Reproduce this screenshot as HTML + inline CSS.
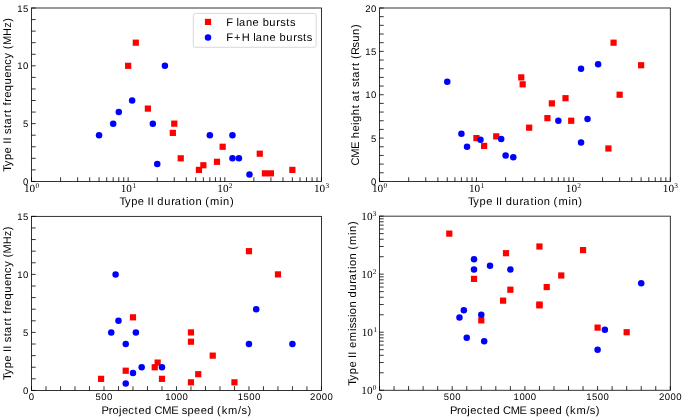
<!DOCTYPE html>
<html><head><meta charset="utf-8"><style>
html,body{margin:0;padding:0;background:#fff;width:685px;height:417px;overflow:hidden}
svg{display:block;will-change:transform} text{text-rendering:geometricPrecision}
</style></head><body>
<svg width="685" height="417" viewBox="0 0 685 417">
<rect width="685" height="417" fill="#fff"/>
<rect x="125.05" y="62.72" width="6.2" height="6.2" fill="#ff0000"/>
<rect x="132.7" y="39.59" width="6.2" height="6.2" fill="#ff0000"/>
<rect x="144.78" y="105.5" width="6.2" height="6.2" fill="#ff0000"/>
<rect x="169.74" y="129.78" width="6.2" height="6.2" fill="#ff0000"/>
<rect x="171.16" y="120.53" width="6.2" height="6.2" fill="#ff0000"/>
<rect x="177.63" y="155.22" width="6.2" height="6.2" fill="#ff0000"/>
<rect x="195.84" y="166.79" width="6.2" height="6.2" fill="#ff0000"/>
<rect x="200.26" y="162.16" width="6.2" height="6.2" fill="#ff0000"/>
<rect x="213.88" y="158.69" width="6.2" height="6.2" fill="#ff0000"/>
<rect x="219.55" y="143.66" width="6.2" height="6.2" fill="#ff0000"/>
<rect x="256.66" y="150.6" width="6.2" height="6.2" fill="#ff0000"/>
<rect x="261.81" y="170.26" width="6.2" height="6.2" fill="#ff0000"/>
<rect x="267.81" y="170.26" width="6.2" height="6.2" fill="#ff0000"/>
<rect x="289.26" y="166.79" width="6.2" height="6.2" fill="#ff0000"/>
<circle cx="99.06" cy="135.2" r="3.25" fill="#0000ff"/>
<circle cx="113.18" cy="123.63" r="3.25" fill="#0000ff"/>
<circle cx="118.78" cy="112.07" r="3.25" fill="#0000ff"/>
<circle cx="132.15" cy="100.51" r="3.25" fill="#0000ff"/>
<circle cx="152.82" cy="123.63" r="3.25" fill="#0000ff"/>
<circle cx="157.24" cy="164.1" r="3.25" fill="#0000ff"/>
<circle cx="164.9" cy="65.82" r="3.25" fill="#0000ff"/>
<circle cx="209.83" cy="135.2" r="3.25" fill="#0000ff"/>
<circle cx="232.45" cy="135.2" r="3.25" fill="#0000ff"/>
<circle cx="232.45" cy="158.32" r="3.25" fill="#0000ff"/>
<circle cx="238.92" cy="158.32" r="3.25" fill="#0000ff"/>
<circle cx="249.47" cy="174.51" r="3.25" fill="#0000ff"/>
<path d="M31.5 181.45V177.25M60.59 181.45V177.25M77.61 181.45V177.25M89.69 181.45V177.25M99.06 181.45V177.25M106.71 181.45V177.25M113.18 181.45V177.25M118.78 181.45V177.25M123.73 181.45V177.25M128.15 181.45V177.25M157.24 181.45V177.25M174.26 181.45V177.25M186.34 181.45V177.25M195.71 181.45V177.25M203.36 181.45V177.25M209.83 181.45V177.25M215.43 181.45V177.25M220.38 181.45V177.25M224.8 181.45V177.25M253.89 181.45V177.25M270.91 181.45V177.25M282.99 181.45V177.25M292.36 181.45V177.25M300.01 181.45V177.25M306.48 181.45V177.25M312.08 181.45V177.25M317.03 181.45V177.25M321.45 181.45V177.25M31.5 181.45H35.7M31.5 169.89H35.7M31.5 158.32H35.7M31.5 146.76H35.7M31.5 135.2H35.7M31.5 123.63H35.7M31.5 112.07H35.7M31.5 100.51H35.7M31.5 88.94H35.7M31.5 77.38H35.7M31.5 65.82H35.7M31.5 54.25H35.7M31.5 42.69H35.7M31.5 31.13H35.7M31.5 19.56H35.7M31.5 8H35.7" stroke="#000" stroke-width="0.8" fill="none"/>
<rect x="31.5" y="8" width="289.95" height="173.45" fill="none" stroke="#000" stroke-width="0.8"/>
<rect x="473.33" y="134.99" width="6.2" height="6.2" fill="#ff0000"/>
<rect x="481.01" y="142.79" width="6.2" height="6.2" fill="#ff0000"/>
<rect x="493.12" y="133.25" width="6.2" height="6.2" fill="#ff0000"/>
<rect x="518.16" y="74.28" width="6.2" height="6.2" fill="#ff0000"/>
<rect x="519.58" y="81.22" width="6.2" height="6.2" fill="#ff0000"/>
<rect x="526.07" y="124.58" width="6.2" height="6.2" fill="#ff0000"/>
<rect x="544.33" y="115.04" width="6.2" height="6.2" fill="#ff0000"/>
<rect x="548.76" y="100.3" width="6.2" height="6.2" fill="#ff0000"/>
<rect x="562.42" y="95.09" width="6.2" height="6.2" fill="#ff0000"/>
<rect x="568.11" y="117.64" width="6.2" height="6.2" fill="#ff0000"/>
<rect x="605.33" y="145.39" width="6.2" height="6.2" fill="#ff0000"/>
<rect x="610.49" y="39.59" width="6.2" height="6.2" fill="#ff0000"/>
<rect x="616.52" y="91.62" width="6.2" height="6.2" fill="#ff0000"/>
<rect x="638.02" y="62.14" width="6.2" height="6.2" fill="#ff0000"/>
<circle cx="447.25" cy="81.72" r="3.25" fill="#0000ff"/>
<circle cx="461.42" cy="133.75" r="3.25" fill="#0000ff"/>
<circle cx="467.04" cy="146.76" r="3.25" fill="#0000ff"/>
<circle cx="480.45" cy="139.82" r="3.25" fill="#0000ff"/>
<circle cx="501.18" cy="138.95" r="3.25" fill="#0000ff"/>
<circle cx="505.61" cy="155.43" r="3.25" fill="#0000ff"/>
<circle cx="513.29" cy="157.17" r="3.25" fill="#0000ff"/>
<circle cx="558.35" cy="120.74" r="3.25" fill="#0000ff"/>
<circle cx="581.04" cy="68.71" r="3.25" fill="#0000ff"/>
<circle cx="581.04" cy="142.42" r="3.25" fill="#0000ff"/>
<circle cx="587.53" cy="119.01" r="3.25" fill="#0000ff"/>
<circle cx="598.11" cy="64.37" r="3.25" fill="#0000ff"/>
<path d="M379.5 181.45V177.25M408.68 181.45V177.25M425.75 181.45V177.25M437.86 181.45V177.25M447.25 181.45V177.25M454.93 181.45V177.25M461.42 181.45V177.25M467.04 181.45V177.25M472 181.45V177.25M476.43 181.45V177.25M505.61 181.45V177.25M522.68 181.45V177.25M534.79 181.45V177.25M544.19 181.45V177.25M551.86 181.45V177.25M558.35 181.45V177.25M563.97 181.45V177.25M568.93 181.45V177.25M573.37 181.45V177.25M602.55 181.45V177.25M619.62 181.45V177.25M631.73 181.45V177.25M641.12 181.45V177.25M648.8 181.45V177.25M655.28 181.45V177.25M660.91 181.45V177.25M665.86 181.45V177.25M670.3 181.45V177.25M379.5 181.45H383.7M379.5 172.78H383.7M379.5 164.1H383.7M379.5 155.43H383.7M379.5 146.76H383.7M379.5 138.09H383.7M379.5 129.41H383.7M379.5 120.74H383.7M379.5 112.07H383.7M379.5 103.4H383.7M379.5 94.72H383.7M379.5 86.05H383.7M379.5 77.38H383.7M379.5 68.71H383.7M379.5 60.04H383.7M379.5 51.36H383.7M379.5 42.69H383.7M379.5 34.02H383.7M379.5 25.34H383.7M379.5 16.67H383.7M379.5 8H383.7" stroke="#000" stroke-width="0.8" fill="none"/>
<rect x="379.5" y="8" width="290.8" height="173.45" fill="none" stroke="#000" stroke-width="0.8"/>
<rect x="97.99" y="375.74" width="6.2" height="6.2" fill="#ff0000"/>
<rect x="122.63" y="367.62" width="6.2" height="6.2" fill="#ff0000"/>
<rect x="129.88" y="314.23" width="6.2" height="6.2" fill="#ff0000"/>
<rect x="151.63" y="364.14" width="6.2" height="6.2" fill="#ff0000"/>
<rect x="154.53" y="359.49" width="6.2" height="6.2" fill="#ff0000"/>
<rect x="158.88" y="375.74" width="6.2" height="6.2" fill="#ff0000"/>
<rect x="187.87" y="329.32" width="6.2" height="6.2" fill="#ff0000"/>
<rect x="187.87" y="338.6" width="6.2" height="6.2" fill="#ff0000"/>
<rect x="187.87" y="379.23" width="6.2" height="6.2" fill="#ff0000"/>
<rect x="195.12" y="371.1" width="6.2" height="6.2" fill="#ff0000"/>
<rect x="209.62" y="352.53" width="6.2" height="6.2" fill="#ff0000"/>
<rect x="231.36" y="379.23" width="6.2" height="6.2" fill="#ff0000"/>
<rect x="245.86" y="248.07" width="6.2" height="6.2" fill="#ff0000"/>
<rect x="274.86" y="271.28" width="6.2" height="6.2" fill="#ff0000"/>
<circle cx="111.24" cy="332.42" r="3.25" fill="#0000ff"/>
<circle cx="115.59" cy="274.38" r="3.25" fill="#0000ff"/>
<circle cx="118.48" cy="320.81" r="3.25" fill="#0000ff"/>
<circle cx="125.73" cy="344.02" r="3.25" fill="#0000ff"/>
<circle cx="125.73" cy="383.49" r="3.25" fill="#0000ff"/>
<circle cx="132.98" cy="373.04" r="3.25" fill="#0000ff"/>
<circle cx="135.88" cy="332.42" r="3.25" fill="#0000ff"/>
<circle cx="141.68" cy="367.24" r="3.25" fill="#0000ff"/>
<circle cx="161.98" cy="367.24" r="3.25" fill="#0000ff"/>
<circle cx="248.96" cy="344.02" r="3.25" fill="#0000ff"/>
<circle cx="256.21" cy="309.2" r="3.25" fill="#0000ff"/>
<circle cx="292.45" cy="344.02" r="3.25" fill="#0000ff"/>
<path d="M31.5 390.45V386.25M46 390.45V386.25M60.5 390.45V386.25M74.99 390.45V386.25M89.49 390.45V386.25M103.99 390.45V386.25M118.48 390.45V386.25M132.98 390.45V386.25M147.48 390.45V386.25M161.98 390.45V386.25M176.47 390.45V386.25M190.97 390.45V386.25M205.47 390.45V386.25M219.97 390.45V386.25M234.46 390.45V386.25M248.96 390.45V386.25M263.46 390.45V386.25M277.96 390.45V386.25M292.45 390.45V386.25M306.95 390.45V386.25M321.45 390.45V386.25M31.5 390.45H35.7M31.5 378.84H35.7M31.5 367.24H35.7M31.5 355.63H35.7M31.5 344.02H35.7M31.5 332.42H35.7M31.5 320.81H35.7M31.5 309.2H35.7M31.5 297.6H35.7M31.5 285.99H35.7M31.5 274.38H35.7M31.5 262.78H35.7M31.5 251.17H35.7M31.5 239.56H35.7M31.5 227.96H35.7M31.5 216.35H35.7" stroke="#000" stroke-width="0.8" fill="none"/>
<rect x="31.5" y="216.35" width="289.95" height="174.1" fill="none" stroke="#000" stroke-width="0.8"/>
<rect x="446.19" y="230.52" width="6.2" height="6.2" fill="#ff0000"/>
<rect x="470.91" y="275.78" width="6.2" height="6.2" fill="#ff0000"/>
<rect x="478.18" y="317.27" width="6.2" height="6.2" fill="#ff0000"/>
<rect x="499.99" y="297.54" width="6.2" height="6.2" fill="#ff0000"/>
<rect x="502.9" y="250.09" width="6.2" height="6.2" fill="#ff0000"/>
<rect x="507.26" y="286.61" width="6.2" height="6.2" fill="#ff0000"/>
<rect x="536.34" y="301.43" width="6.2" height="6.2" fill="#ff0000"/>
<rect x="536.34" y="302.28" width="6.2" height="6.2" fill="#ff0000"/>
<rect x="536.34" y="243.39" width="6.2" height="6.2" fill="#ff0000"/>
<rect x="543.61" y="283.96" width="6.2" height="6.2" fill="#ff0000"/>
<rect x="558.15" y="272.38" width="6.2" height="6.2" fill="#ff0000"/>
<rect x="579.96" y="247" width="6.2" height="6.2" fill="#ff0000"/>
<rect x="594.5" y="324.52" width="6.2" height="6.2" fill="#ff0000"/>
<rect x="623.58" y="329.12" width="6.2" height="6.2" fill="#ff0000"/>
<circle cx="459.47" cy="317.4" r="3.25" fill="#0000ff"/>
<circle cx="463.83" cy="310.15" r="3.25" fill="#0000ff"/>
<circle cx="466.74" cy="337.84" r="3.25" fill="#0000ff"/>
<circle cx="474.01" cy="259.37" r="3.25" fill="#0000ff"/>
<circle cx="474.01" cy="269.59" r="3.25" fill="#0000ff"/>
<circle cx="481.28" cy="314.75" r="3.25" fill="#0000ff"/>
<circle cx="484.19" cy="341.21" r="3.25" fill="#0000ff"/>
<circle cx="490" cy="265.7" r="3.25" fill="#0000ff"/>
<circle cx="510.36" cy="269.59" r="3.25" fill="#0000ff"/>
<circle cx="597.6" cy="349.69" r="3.25" fill="#0000ff"/>
<circle cx="604.87" cy="329.81" r="3.25" fill="#0000ff"/>
<circle cx="641.22" cy="283.17" r="3.25" fill="#0000ff"/>
<path d="M379.5 390.25V386.05M394.04 390.25V386.05M408.58 390.25V386.05M423.12 390.25V386.05M437.66 390.25V386.05M452.2 390.25V386.05M466.74 390.25V386.05M481.28 390.25V386.05M495.82 390.25V386.05M510.36 390.25V386.05M524.9 390.25V386.05M539.44 390.25V386.05M553.98 390.25V386.05M568.52 390.25V386.05M583.06 390.25V386.05M597.6 390.25V386.05M612.14 390.25V386.05M626.68 390.25V386.05M641.22 390.25V386.05M655.76 390.25V386.05M670.3 390.25V386.05M379.5 390.25H383.7M379.5 372.78H383.7M379.5 362.56H383.7M379.5 355.31H383.7M379.5 349.69H383.7M379.5 345.09H383.7M379.5 341.21H383.7M379.5 337.84H383.7M379.5 334.87H383.7M379.5 332.22H383.7M379.5 314.75H383.7M379.5 304.53H383.7M379.5 297.28H383.7M379.5 291.65H383.7M379.5 287.06H383.7M379.5 283.17H383.7M379.5 279.81H383.7M379.5 276.84H383.7M379.5 274.18H383.7M379.5 256.71H383.7M379.5 246.49H383.7M379.5 239.24H383.7M379.5 233.62H383.7M379.5 229.02H383.7M379.5 225.14H383.7M379.5 221.77H383.7M379.5 218.81H383.7M379.5 216.15H383.7" stroke="#000" stroke-width="0.8" fill="none"/>
<rect x="379.5" y="216.15" width="290.8" height="174.1" fill="none" stroke="#000" stroke-width="0.8"/>
<text transform="translate(0 184.95)" x="23.03" y="0" font-family='"Liberation Sans", sans-serif' font-size="9.55" fill="#000">0</text>
<text transform="translate(0 127.13)" x="22.99" y="0" font-family='"Liberation Sans", sans-serif' font-size="9.55" fill="#000">5</text>
<text transform="translate(0 69.32)" x="17.25 23.03" y="0" font-family='"Liberation Sans", sans-serif' font-size="9.55" fill="#000">10</text>
<text transform="translate(0 11.5)" x="17.25 22.99" y="0" font-family='"Liberation Sans", sans-serif' font-size="9.55" fill="#000">15</text>
<text transform="translate(0 393.95)" x="23.03" y="0" font-family='"Liberation Sans", sans-serif' font-size="9.55" fill="#000">0</text>
<text transform="translate(0 335.92)" x="22.99" y="0" font-family='"Liberation Sans", sans-serif' font-size="9.55" fill="#000">5</text>
<text transform="translate(0 277.88)" x="17.25 23.03" y="0" font-family='"Liberation Sans", sans-serif' font-size="9.55" fill="#000">10</text>
<text transform="translate(0 219.85)" x="17.25 22.99" y="0" font-family='"Liberation Sans", sans-serif' font-size="9.55" fill="#000">15</text>
<text transform="translate(0 184.95)" x="371.03" y="0" font-family='"Liberation Sans", sans-serif' font-size="9.55" fill="#000">0</text>
<text transform="translate(0 141.59)" x="370.99" y="0" font-family='"Liberation Sans", sans-serif' font-size="9.55" fill="#000">5</text>
<text transform="translate(0 98.22)" x="365.25 371.03" y="0" font-family='"Liberation Sans", sans-serif' font-size="9.55" fill="#000">10</text>
<text transform="translate(0 54.86)" x="365.25 370.99" y="0" font-family='"Liberation Sans", sans-serif' font-size="9.55" fill="#000">15</text>
<text transform="translate(0 11.5)" x="365.18 371.03" y="0" font-family='"Liberation Sans", sans-serif' font-size="9.55" fill="#000">20</text>
<text x="24.02" y="191.75" font-family='"Liberation Serif", serif' font-size="10.9" textLength="11.2" lengthAdjust="spacingAndGlyphs" fill="#000">10</text>
<text x="35.53" y="187.95" font-family='"Liberation Serif", serif' font-size="7.3" fill="#000">0</text>
<text x="120.67" y="191.75" font-family='"Liberation Serif", serif' font-size="10.9" textLength="11.2" lengthAdjust="spacingAndGlyphs" fill="#000">10</text>
<text x="132.51" y="187.95" font-family='"Liberation Serif", serif' font-size="7.3" fill="#000">1</text>
<text x="217.32" y="191.75" font-family='"Liberation Serif", serif' font-size="10.9" textLength="11.2" lengthAdjust="spacingAndGlyphs" fill="#000">10</text>
<text x="228.77" y="187.95" font-family='"Liberation Serif", serif' font-size="7.3" fill="#000">2</text>
<text x="313.97" y="191.75" font-family='"Liberation Serif", serif' font-size="10.9" textLength="11.2" lengthAdjust="spacingAndGlyphs" fill="#000">10</text>
<text x="325.4" y="187.95" font-family='"Liberation Serif", serif' font-size="7.3" fill="#000">3</text>
<text x="372.02" y="191.75" font-family='"Liberation Serif", serif' font-size="10.9" textLength="11.2" lengthAdjust="spacingAndGlyphs" fill="#000">10</text>
<text x="383.53" y="187.95" font-family='"Liberation Serif", serif' font-size="7.3" fill="#000">0</text>
<text x="468.95" y="191.75" font-family='"Liberation Serif", serif' font-size="10.9" textLength="11.2" lengthAdjust="spacingAndGlyphs" fill="#000">10</text>
<text x="480.79" y="187.95" font-family='"Liberation Serif", serif' font-size="7.3" fill="#000">1</text>
<text x="565.89" y="191.75" font-family='"Liberation Serif", serif' font-size="10.9" textLength="11.2" lengthAdjust="spacingAndGlyphs" fill="#000">10</text>
<text x="577.34" y="187.95" font-family='"Liberation Serif", serif' font-size="7.3" fill="#000">2</text>
<text x="662.82" y="191.75" font-family='"Liberation Serif", serif' font-size="10.9" textLength="11.2" lengthAdjust="spacingAndGlyphs" fill="#000">10</text>
<text x="674.25" y="187.95" font-family='"Liberation Serif", serif' font-size="7.3" fill="#000">3</text>
<text transform="translate(0 399.9)" x="28.84" y="0" font-family='"Liberation Sans", sans-serif' font-size="9.55" fill="#000">0</text>
<text transform="translate(0 399.9)" x="95.57 101.33 107.06" y="0" font-family='"Liberation Sans", sans-serif' font-size="9.55" fill="#000">500</text>
<text transform="translate(0 399.9)" x="165.18 170.95 176.68 182.41" y="0" font-family='"Liberation Sans", sans-serif' font-size="9.55" fill="#000">1000</text>
<text transform="translate(0 399.9)" x="237.67 243.41 249.17 254.89" y="0" font-family='"Liberation Sans", sans-serif' font-size="9.55" fill="#000">1500</text>
<text transform="translate(0 399.9)" x="310.08 315.93 321.66 327.38" y="0" font-family='"Liberation Sans", sans-serif' font-size="9.55" fill="#000">2000</text>
<text transform="translate(0 399.7)" x="376.84" y="0" font-family='"Liberation Sans", sans-serif' font-size="9.55" fill="#000">0</text>
<text transform="translate(0 399.7)" x="443.78 449.54 455.27" y="0" font-family='"Liberation Sans", sans-serif' font-size="9.55" fill="#000">500</text>
<text transform="translate(0 399.7)" x="513.6 519.38 525.11 530.83" y="0" font-family='"Liberation Sans", sans-serif' font-size="9.55" fill="#000">1000</text>
<text transform="translate(0 399.7)" x="586.3 592.04 597.81 603.53" y="0" font-family='"Liberation Sans", sans-serif' font-size="9.55" fill="#000">1500</text>
<text transform="translate(0 399.7)" x="658.93 664.78 670.51 676.23" y="0" font-family='"Liberation Sans", sans-serif' font-size="9.55" fill="#000">2000</text>
<text x="361.32" y="393.95" font-family='"Liberation Serif", serif' font-size="10.9" textLength="11.2" lengthAdjust="spacingAndGlyphs" fill="#000">10</text>
<text x="372.83" y="390.15" font-family='"Liberation Serif", serif' font-size="7.3" fill="#000">0</text>
<text x="361.72" y="335.92" font-family='"Liberation Serif", serif' font-size="10.9" textLength="11.2" lengthAdjust="spacingAndGlyphs" fill="#000">10</text>
<text x="373.56" y="332.12" font-family='"Liberation Serif", serif' font-size="7.3" fill="#000">1</text>
<text x="361.32" y="277.88" font-family='"Liberation Serif", serif' font-size="10.9" textLength="11.2" lengthAdjust="spacingAndGlyphs" fill="#000">10</text>
<text x="372.77" y="274.08" font-family='"Liberation Serif", serif' font-size="7.3" fill="#000">2</text>
<text x="361.32" y="219.85" font-family='"Liberation Serif", serif' font-size="10.9" textLength="11.2" lengthAdjust="spacingAndGlyphs" fill="#000">10</text>
<text x="372.75" y="216.05" font-family='"Liberation Serif", serif' font-size="7.3" fill="#000">3</text>
<text transform="translate(0 205)" x="119.56 124.9 131.18 137.78 144.26 147.52 150.65 153.91 157.36 164.15 171.17 174.76 182.02 185.92 188.8 195.44 202.02 205.19 209.98 220 223.01 229.95" y="0" font-family='"Liberation Sans", sans-serif' font-size="11.1" fill="#000">Type II duration (min)</text>
<text transform="translate(0 205)" x="467.96 473.3 479.58 486.18 492.66 495.92 499.05 502.31 505.76 512.55 519.57 523.16 530.42 534.32 537.2 543.84 550.42 553.59 558.38 568.4 571.41 578.35" y="0" font-family='"Liberation Sans", sans-serif' font-size="11.1" fill="#000">Type II duration (min)</text>
<text transform="translate(0 413.6)" x="101.58 108.67 112.42 118.92 121.92 128.27 134.61 138.47 145.03 151.7 154.57 162.32 171.15 178.39 181.69 187.51 194.11 200.65 207.21 213.88 217.06 221.65 228 238.02 241.42 247.4" y="0" font-family='"Liberation Sans", sans-serif' font-size="11.1" fill="#000">Projected CME speed (km/s)</text>
<text transform="translate(0 413.6)" x="449.98 457.07 460.82 467.32 470.32 476.67 483.01 486.87 493.43 500.1 502.97 510.72 519.55 526.79 530.09 535.91 542.51 549.05 555.61 562.28 565.46 570.05 576.4 586.42 589.82 595.8" y="0" font-family='"Liberation Sans", sans-serif' font-size="11.1" fill="#000">Projected CME speed (km/s)</text>
<text transform="translate(11 0) rotate(-90)" x="-171.64 -166.3 -160.02 -153.42 -146.94 -143.68 -140.55 -137.29 -133.99 -128.01 -124.58 -117.3 -112.96 -109.16 -105.46 -101.64 -97.85 -91.29 -84.5 -77.82 -71.18 -64.73 -58.54 -52.47 -49.29 -45.12 -35.93 -27.86 -21.84" y="0" font-family='"Liberation Sans", sans-serif' font-size="11.1" fill="#000">Type II start frequency (MHz)</text>
<text transform="translate(359.3 0) rotate(-90)" x="-165.56 -157.81 -148.98 -141.74 -138.22 -131.57 -124.98 -122.06 -115.24 -108.28 -104.48 -101.48 -94.22 -90.42 -87.12 -81.14 -77.71 -70.42 -66.08 -62.28 -59.11 -55.05 -47.45 -41.72 -34.94 -28" y="0" font-family='"Liberation Sans", sans-serif' font-size="11.1" fill="#000">CME height at start (Rsun)</text>
<text transform="translate(11 0) rotate(-90)" x="-379.94 -374.6 -368.32 -361.72 -355.24 -351.98 -348.85 -345.59 -342.29 -336.31 -332.88 -325.6 -321.26 -317.46 -313.76 -309.94 -306.15 -299.59 -292.8 -286.12 -279.48 -273.03 -266.84 -260.77 -257.59 -253.42 -244.23 -236.16 -230.14" y="0" font-family='"Liberation Sans", sans-serif' font-size="11.1" fill="#000">Type II start frequency (MHz)</text>
<text transform="translate(355.5 0) rotate(-90)" x="-385.84 -380.5 -374.22 -367.62 -361.14 -357.88 -354.75 -351.49 -348.06 -341.14 -331.12 -328.34 -322.81 -317.09 -314.22 -307.57 -301 -297.54 -290.76 -283.74 -280.14 -272.88 -268.98 -266.11 -259.46 -252.89 -249.71 -244.92 -234.9 -231.89 -224.96" y="0" font-family='"Liberation Sans", sans-serif' font-size="11.1" fill="#000">Type II emission duration (min)</text>
<rect x="193.3" y="13.45" width="122.9" height="33.85" rx="2.2" fill="#fff" stroke="#d5d5d5" stroke-width="0.9"/>
<rect x="204.9" y="18.8" width="6.2" height="6.2" fill="#ff0000"/>
<circle cx="208" cy="37.5" r="3.25" fill="#0000ff"/>
<text transform="translate(0 25.7)" x="226.35 232.96 236.44 238.92 245.97 252.6 259.09 262.67 269.32 276.34 280.24 286.22 289.95" y="0" font-family='"Liberation Sans", sans-serif' font-size="11.1" fill="#000">F lane bursts</text>
<text transform="translate(0 41.2)" x="226.35 234.03 241.71 249.86 253.34 255.82 262.87 269.5 275.99 279.57 286.22 293.24 297.14 303.12 306.85" y="0" font-family='"Liberation Sans", sans-serif' font-size="11.1" fill="#000">F+H lane bursts</text>
</svg>
</body></html>
